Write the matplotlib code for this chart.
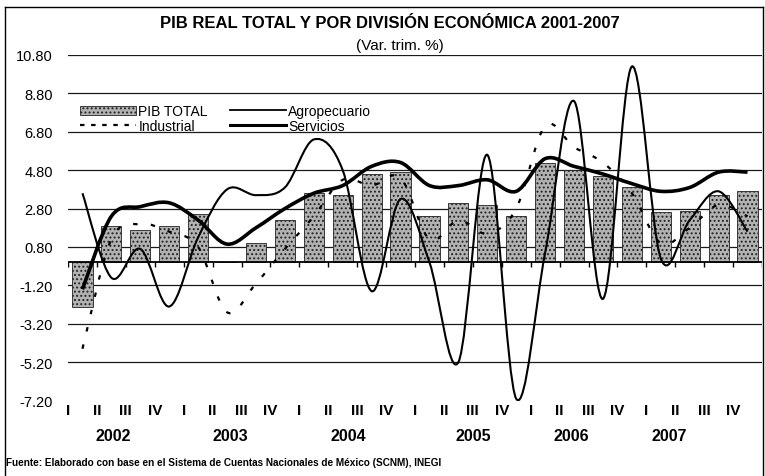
import matplotlib
matplotlib.use("Agg")
import matplotlib.pyplot as plt
import matplotlib.transforms as mtransforms
import numpy as np
from matplotlib.lines import Line2D
from matplotlib.patches import PathPatch, Patch
from matplotlib.path import Path

plt.rcParams["font.family"] = ["Liberation Sans", "DejaVu Sans"]
plt.rcParams["axes.unicode_minus"] = False
plt.rcParams["hatch.linewidth"] = 0.9

# --- data (var. % anual, trimestral) ---
YEARS = ["2002", "2003", "2004", "2005", "2006", "2007"]
QUARTERS = ["I", "II", "III", "IV"] * len(YEARS)

PIB_TOTAL = [-2.3, 1.9, 1.7, 1.9, 2.5, 0.0, 1.0, 2.2,
             3.6, 3.5, 4.6, 4.7, 2.4, 3.1, 3.0, 2.4,
             5.2, 4.8, 4.5, 3.9, 2.6, 2.7, 3.5, 3.7]
AGROPECUARIO = [3.6, -0.8, 0.7, -2.3, 1.3, 3.8, 3.5, 3.9,
                6.4, 4.8, -1.5, 3.3, 0.0, -5.2, 5.6, -7.1,
                0.5, 8.4, -1.9, 10.2, 0.2, 2.2, 3.7, 1.6]
INDUSTRIAL = [-4.5, 1.2, 2.0, 1.6, 0.8, -2.6, -1.1, 0.7,
              2.4, 4.3, 4.0, 4.4, 1.2, 2.2, 1.5, 2.8,
              7.1, 6.0, 5.2, 3.6, 1.0, 1.8, 3.0, 2.4]
SERVICIOS = [-1.4, 2.4, 2.9, 3.1, 2.2, 0.95, 1.8, 2.8,
             3.6, 4.0, 5.0, 5.2, 4.0, 4.0, 4.3, 3.7,
             5.4, 5.0, 4.6, 4.1, 3.7, 3.9, 4.7, 4.7]

W, H = 765, 477
BAR_FACE = "#b2b2b2"


def smooth_path(y):
    """Excel-style smoothed line: cubic Bezier through every data point."""
    pts = np.column_stack([np.arange(len(y)), y]).astype(float)
    ext = np.vstack([pts[0], pts, pts[-1]])
    verts, codes = [pts[0]], [Path.MOVETO]
    for i in range(len(pts) - 1):
        p0, p1, p2, p3 = ext[i], ext[i + 1], ext[i + 2], ext[i + 3]
        verts += [p1 + (p2 - p0) / 6, p2 - (p3 - p1) / 6, p2]
        codes += [Path.CURVE4] * 3
    return Path(verts, codes)


fig = plt.figure(figsize=(W / 100, H / 100), dpi=100)
fig.patch.set_facecolor("white")

# plot area in pixels: x 68..762, y 56 (10.80) .. 401.6 (-7.20)
ax = fig.add_axes([68 / W, 1 - 401.6 / H, (762 - 68) / W, (401.6 - 56) / H])
ax.set_xlim(-0.5, len(QUARTERS) - 0.5)
ax.set_ylim(-7.2, 10.8)
for s in ax.spines.values():
    s.set_visible(False)

yt = np.round(np.arange(-7.2, 10.81, 2.0), 2)
ax.set_yticks(yt)
ax.set_yticklabels([f"{v:.2f}" for v in yt], fontsize=10.5)
ax.tick_params(axis="y", length=0, pad=11)
ax.set_xticks([])
ax.yaxis.grid(True, color="#1a1a1a", lw=0.9)
ax.set_axisbelow(True)
ax.yaxis.get_gridlines()[0].set_visible(False)

x = np.arange(len(QUARTERS))
ax.bar(x, PIB_TOTAL, width=0.7, facecolor=BAR_FACE, edgecolor="#222222",
       hatch="....", linewidth=0.6, zorder=2)

# category axis crossing at zero, ticks at category boundaries
ax.axhline(0, color="black", lw=1.3, zorder=3)
ax.vlines(np.arange(len(QUARTERS) + 1) - 0.5, -0.25, 0, color="black",
          lw=1.0, zorder=3)

ax.add_patch(PathPatch(smooth_path(INDUSTRIAL), fill=False, edgecolor="black",
                       lw=1.6, linestyle=(0, (2, 6)), zorder=4))
ax.add_patch(PathPatch(smooth_path(AGROPECUARIO), fill=False,
                       edgecolor="black", lw=1.5, zorder=5))
ax.add_patch(PathPatch(smooth_path(SERVICIOS), fill=False, edgecolor="black",
                       lw=2.6, zorder=6))

# quarter and year labels under the plot
tr = mtransforms.blended_transform_factory(ax.transData, ax.transAxes)
for i, q in enumerate(QUARTERS):
    ax.text(i - 0.5, -0.028, q, transform=tr, ha="center", va="center",
            fontsize=11, fontweight="bold")
year_pos = [1.05, 5.1, 9.2, 13.5, 16.9, 20.3]
for xp, yr in zip(year_pos, YEARS):
    ax.text(xp, -0.102, yr, transform=tr, ha="center", va="center",
            fontsize=11.5, fontweight="bold")

handles = [
    Patch(facecolor=BAR_FACE, edgecolor="#222222", hatch="....",
          linewidth=0.6, label="PIB TOTAL"),
    Line2D([], [], color="black", lw=1.6, linestyle=(0, (2, 3)),
           label="Industrial"),
    Line2D([], [], color="black", lw=1.3, label="Agropecuario"),
    Line2D([], [], color="black", lw=2.2, label="Servicios"),
]
fig.legend(handles=handles, loc="upper left",
           bbox_to_anchor=(80 / W, 1 - 105 / H), ncol=2, frameon=False,
           fontsize=10, handlelength=4.0, handletextpad=0.2,
           columnspacing=1.6, labelspacing=0.05, borderpad=0,
           borderaxespad=0, handleheight=0.6)

fig.text(390 / W, 1 - 24 / H,
         "PIB REAL TOTAL Y POR DIVISIÓN ECONÓMICA 2001-2007",
         ha="center", va="center", fontsize=12, fontweight="bold")
fig.text(400 / W, 1 - 46 / H, "(Var. trim. %)", ha="center", va="center",
         fontsize=11)
fig.text(6 / W, 1 - 463 / H,
         "Fuente: Elaborado con base en el Sistema de Cuentas Nacionales "
         "de México (SCNM), INEGI",
         ha="left", va="center", fontsize=7.2, fontweight="bold")

# outer frame of the scanned chart (left, top, right)
for xs, ys in [([5, 5], [8, H]), ([5, 763], [8, 8]), ([763, 763], [8, H])]:
    fig.add_artist(Line2D([v / W for v in xs], [1 - v / H for v in ys],
                          color="black", lw=1.0))

fig.savefig("out.png", dpi=100)
